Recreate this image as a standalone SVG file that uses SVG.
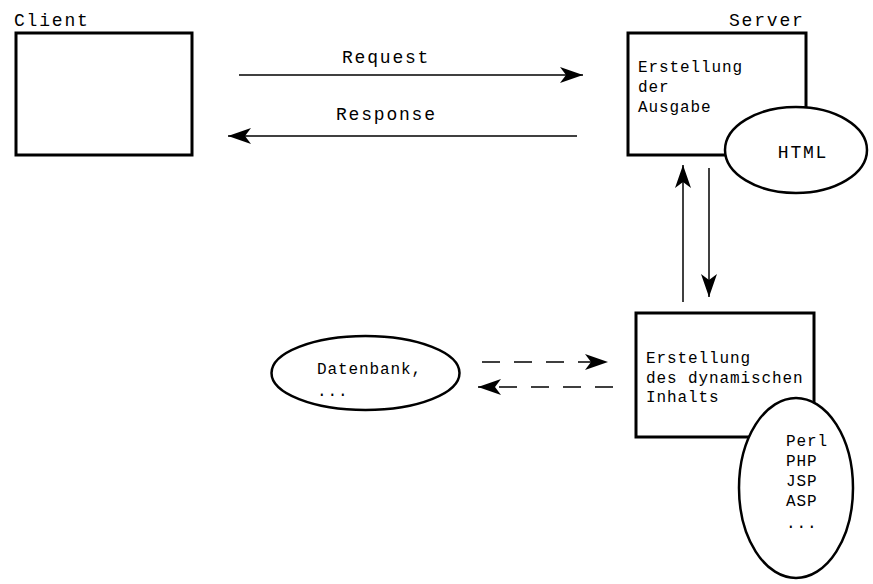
<svg xmlns="http://www.w3.org/2000/svg" width="873" height="584" viewBox="0 0 873 584">
<style>
.box{fill:#fff;stroke:#000;stroke-width:3}
.ell{fill:#fff;stroke:#000;stroke-width:2.5}
.line{fill:none;stroke:#000;stroke-width:1.5}
.dash{stroke-dasharray:18 14}
.big{font-family:"Liberation Mono","Courier New",monospace;font-size:18px;letter-spacing:1.8px;fill:#000}
.small{font-family:"Liberation Mono","Courier New",monospace;font-size:16px;letter-spacing:0.9px;fill:#000}
</style>
<defs>
<marker id="ah" markerWidth="24" markerHeight="16" refX="23" refY="8" orient="auto" markerUnits="userSpaceOnUse">
<path d="M0,0 L23,8 L0,16 L6,8 Z" fill="#000"/>
</marker>
</defs>
<rect width="873" height="584" fill="#fff"/>
<g id="client">
<text class="big" x="14" y="26">Client</text>
<rect class="box" x="16" y="33" width="176" height="122"/>
</g>
<g id="server">
<text class="big" x="729" y="26">Server</text>
<rect class="box" x="628" y="33" width="178" height="122"/>
<text class="small" x="638" y="72">Erstellung</text>
<text class="small" x="638" y="92">der</text>
<text class="small" x="638" y="112">Ausgabe</text>
</g>
<g id="html">
<ellipse class="ell" cx="796" cy="150" rx="71" ry="43"/>
<text class="big" x="803" y="158" text-anchor="middle">HTML</text>
</g>
<g id="dynamic">
<rect class="box" x="636" y="313" width="178" height="124"/>
<text class="small" x="646" y="363">Erstellung</text>
<text class="small" x="646" y="383">des dynamischen</text>
<text class="small" x="646" y="402">Inhalts</text>
</g>
<g id="languages">
<ellipse class="ell" cx="796" cy="488" rx="57" ry="90"/>
<text class="small" x="786" y="446">Perl</text>
<text class="small" x="786" y="466">PHP</text>
<text class="small" x="786" y="486">JSP</text>
<text class="small" x="786" y="506">ASP</text>
<text class="small" x="786" y="528">...</text>
</g>
<g id="datenbank">
<ellipse class="ell" cx="365.5" cy="373" rx="94" ry="37"/>
<text class="small" x="317" y="374">Datenbank,</text>
<text class="small" x="317" y="396">...</text>
</g>
<g id="connectors">
<line class="line" x1="239" y1="75" x2="583" y2="75" marker-end="url(#ah)"/>
<text class="big" x="342" y="63">Request</text>
<line class="line" x1="577" y1="136" x2="228" y2="136" marker-end="url(#ah)"/>
<text class="big" x="336" y="120">Response</text>
<line class="line" x1="683" y1="302" x2="683" y2="165" marker-end="url(#ah)"/>
<line class="line" x1="709" y1="168" x2="709" y2="297" marker-end="url(#ah)"/>
<line class="line dash" x1="482" y1="362" x2="608" y2="362" marker-end="url(#ah)"/>
<line class="line dash" x1="613" y1="387" x2="478" y2="387" marker-end="url(#ah)"/>
</g>
</svg>
